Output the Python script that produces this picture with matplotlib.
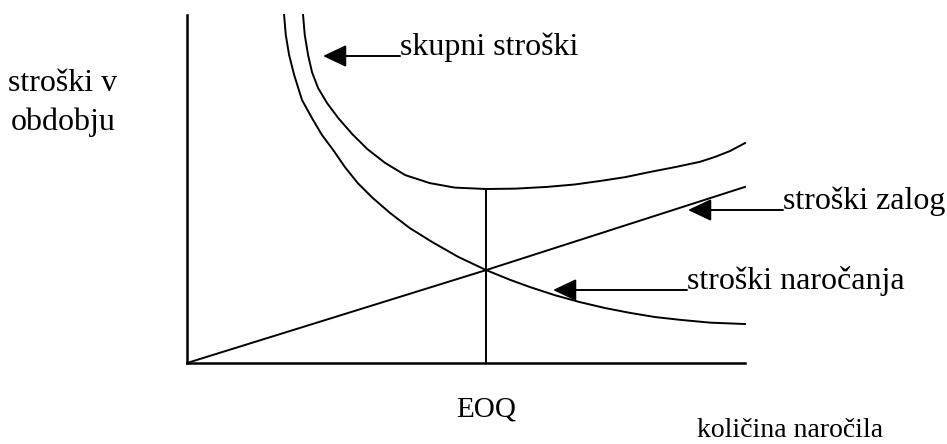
import matplotlib
matplotlib.use("Agg")
import matplotlib.pyplot as plt

plt.rcParams['font.family'] = ['Liberation Serif', 'DejaVu Serif']

# values (x: quantity 0..100, y: cost 0..100)
order_x = [17.4, 17.7, 18.3, 19.2, 20.6, 22.6, 24.2, 26.2, 28.3, 30.6, 33.3, 36.4, 39.9,
           43.9, 48.6, 53.6, 57.9, 61.5, 65.9, 70.4, 74.9, 79.4, 83.9, 88.4, 93.7, 100.0]
order_y = [100.0, 94.3, 88.5, 82.8, 75.6, 69.8, 65.5, 61.2, 56.3, 51.7, 47.4, 43.1, 38.8,
           34.8, 30.5, 26.7, 23.9, 21.8, 19.5, 17.5, 15.8, 14.4, 13.2, 12.4, 11.6, 11.2]

total_x = [20.8, 21.1, 21.7, 22.4, 23.5, 25.1, 27.1, 29.6, 32.3, 35.5, 39.1, 43.5, 48.0,
           53.6, 58.8, 64.5, 69.5, 74.0, 78.5, 83.0, 87.5, 91.9, 94.6, 97.3, 100.0]
total_y = [100.0, 94.3, 88.5, 83.6, 79.0, 74.7, 70.4, 65.8, 61.5, 57.5, 54.0, 51.7, 50.4,
           50.0, 50.1, 50.6, 51.3, 52.3, 53.4, 54.9, 56.3, 57.8, 59.2, 60.9, 63.2]

hold_x = [0.0, 53.6, 100.0]
hold_y = [0.0, 26.7, 50.6]

eoq_x = 53.6
eoq_y = 50.0

W, H = 947, 444
fig = plt.figure(figsize=(W / 100, H / 100), dpi=100)
ax = fig.add_axes([187 / W, (H - 363) / H, 558 / W, 348 / H])
ax.set_xlim(0, 100)
ax.set_ylim(0, 100)
ax.axis('off')

lw = 1.4
ax.plot([0, 0], [0, 100], color='black', lw=1.8, clip_on=False)
ax.plot([0, 100], [0, 0], color='black', lw=1.8, clip_on=False)
ax.plot(order_x, order_y, color='black', lw=lw, clip_on=False)
ax.plot(total_x, total_y, color='black', lw=lw, clip_on=False)
ax.plot(hold_x, hold_y, color='black', lw=lw, clip_on=False)
ax.plot([eoq_x, eoq_x], [0, eoq_y], color='black', lw=lw, clip_on=False)


def label(text, tip, tail):
    # arrow from the text back to the curve, in figure pixel coords
    ax.annotate('', xy=(tip[0] / W, 1 - tip[1] / H), xycoords='figure fraction',
                xytext=(tail[0] / W, 1 - tail[1] / H), textcoords='figure fraction',
                arrowprops=dict(arrowstyle='-|>,head_length=0.72,head_width=0.34',
                                mutation_scale=20, color='black', lw=1.4,
                                shrinkA=0, shrinkB=0))
    fig.text(tail[0] / W, 1 - (tail[1] - 9) / H, text, fontsize=23,
             ha='left', va='center')


label('skupni stroški', (323, 56), (400, 56))
label('stroški zalog', (688, 210), (783, 210))
label('stroški naročanja', (553, 290), (687, 290))

fig.text(63 / W, 1 - 103 / H, 'stroški v\nobdobju', fontsize=23,
         ha='center', va='center', multialignment='center', linespacing=1.45)
fig.text(486 / W, 1 - 409 / H, 'EOQ', fontsize=21, ha='center', va='center')
fig.text(697 / W, 1 - 430 / H, 'količina naročila', fontsize=20,
         ha='left', va='center')

fig.savefig('out.png', dpi=100)
